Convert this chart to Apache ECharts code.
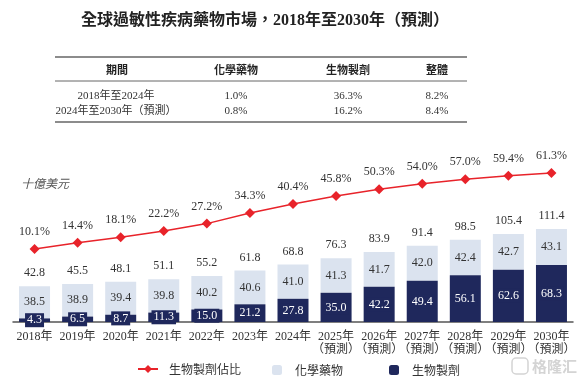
<!DOCTYPE html>
<html>
<head>
<meta charset="utf-8">
<script src="https://cdn.jsdelivr.net/npm/echarts/dist/echarts.min.js"></script>
<style>
  html, body { margin: 0; padding: 0; background: #fff; }
  #chart { width: 585px; height: 377px; }
</style>
</head>
<body>
<div id="chart"></div>
<script>
const years = ["2018年", "2019年", "2020年", "2021年", "2022年", "2023年", "2024年",
  "2025年\n（預測）", "2026年\n（預測）", "2027年\n（預測）", "2028年\n（預測）", "2029年\n（預測）", "2030年\n（預測）"];
const bio = [4.3, 6.5, 8.7, 11.3, 15.0, 21.2, 27.8, 35.0, 42.2, 49.4, 56.1, 62.6, 68.3];
const chem = [38.5, 38.9, 39.4, 39.8, 40.2, 40.6, 41.0, 41.3, 41.7, 42.0, 42.4, 42.7, 43.1];
const totals = [42.8, 45.5, 48.1, 51.1, 55.2, 61.8, 68.8, 76.3, 83.9, 91.4, 98.5, 105.4, 111.4];
const bioShare = [10.1, 14.4, 18.1, 22.2, 27.2, 34.3, 40.4, 45.8, 50.3, 54.0, 57.0, 59.4, 61.3];

const tableHead = ["期間", "化學藥物", "生物製劑", "整體"];
const tableRows = [
  ["2018年至2024年", "1.0%", "36.3%", "8.2%"],
  ["2024年至2030年（預測）", "0.8%", "16.2%", "8.4%"],
];

const serif = "'Liberation Serif', 'Noto Sans CJK TC', serif";
const NAVY = "#1f285c";
const LIGHT = "#dbe3ef";
const RED = "#e8232a";

// table drawn as graphic text/lines
const colX = [117, 236, 348, 437];
const tableGraphic = [];
[[57, 1.5], [81, 1], [122, 1.5]].forEach(([y, w]) => {
  tableGraphic.push({
    type: "line",
    shape: { x1: 55, y1: y, x2: 467, y2: y },
    style: { stroke: "#666", lineWidth: w },
  });
});
tableHead.forEach((t, i) => {
  tableGraphic.push({
    type: "text", x: colX[i], y: 70,
    style: { text: t, font: "bold 11px 'Noto Sans CJK TC'", fill: "#222", align: "center", verticalAlign: "middle" },
  });
});
tableRows.forEach((row, r) => {
  row.forEach((t, i) => {
    tableGraphic.push({
      type: "text", x: i === 0 ? 116 : colX[i], y: 96 + r * 15,
      style: { text: t, font: "11px " + serif, fill: "#333", align: "center", verticalAlign: "middle" },
    });
  });
});

const chart = echarts.init(document.getElementById("chart"));
chart.setOption({
  animation: false,
  textStyle: { fontFamily: serif, color: "#333" },
  title: {
    text: "全球過敏性疾病藥物市場，2018年至2030年（預測）",
    left: 76,
    top: 8,
    textStyle: { fontFamily: serif, fontSize: 16, fontWeight: "bold", color: "#222" },
  },
  graphic: [
    ...tableGraphic,
    {
      type: "text", x: 21, y: 183,
      style: { text: "十億美元", font: "italic 12px 'Noto Sans CJK TC'", fill: "#555", verticalAlign: "middle" },
    },
    {
      type: "text", x: 532, y: 366,
      style: { text: "格隆汇", font: "bold 15px 'Noto Sans CJK SC'", fill: "#d4d4d4", verticalAlign: "middle" },
    },
    {
      type: "rect", shape: { x: 512, y: 358, width: 16, height: 16, r: 4 },
      style: { fill: "none", stroke: "#d4d4d4", lineWidth: 1.5 },
    },
  ],
  legend: [
    {
      data: ["生物製劑佔比"],
      left: 132,
      top: 358,
      itemWidth: 20,
      itemHeight: 10,
      textStyle: { fontFamily: "'Noto Sans CJK TC'", fontSize: 12, color: "#333", padding: [0, 0, 0, 6] },
    },
    {
      data: ["化學藥物", "生物製劑"],
      left: 267,
      top: 359,
      itemWidth: 10,
      itemHeight: 10,
      itemGap: 46,
      textStyle: { fontFamily: "'Noto Sans CJK TC'", fontSize: 12, color: "#333", padding: [0, 0, 0, 8] },
    },
  ],
  grid: { left: 13, right: 12, top: 160, bottom: 55 },
  xAxis: {
    type: "category",
    data: years,
    axisTick: { show: false },
    axisLine: { lineStyle: { color: "#555", width: 1.5 } },
    axisLabel: { fontSize: 12, color: "#333", margin: 8, lineHeight: 13, interval: 0 },
  },
  yAxis: [
    { type: "value", min: 0, max: 194, show: false },
    { type: "value", min: -39, max: 70, show: false },
  ],
  series: [
    {
      name: "總計",
      type: "bar",
      data: totals,
      barWidth: 31,
      barGap: "-100%",
      itemStyle: { color: "rgba(0,0,0,0)" },
      label: { show: true, position: "top", distance: 7, fontSize: 12, color: "#333" },
      silent: true,
      z: 1,
    },
    {
      name: "生物製劑",
      type: "bar",
      stack: "m",
      data: bio,
      barWidth: 31,
      itemStyle: { color: NAVY },
      label: {
        show: true, position: "inside", fontSize: 12, color: "#fff",
        backgroundColor: NAVY, padding: [1, 2],
        formatter: (p) => p.value.toFixed(1),
      },
      z: 3,
    },
    {
      name: "化學藥物",
      type: "bar",
      stack: "m",
      data: chem,
      barWidth: 31,
      itemStyle: { color: LIGHT },
      label: { show: true, position: "inside", fontSize: 12, color: "#333", formatter: (p) => p.value.toFixed(1) },
      z: 2,
    },
    {
      name: "生物製劑佔比",
      type: "line",
      yAxisIndex: 1,
      data: bioShare,
      symbol: "diamond",
      symbolSize: 10,
      lineStyle: { color: RED, width: 1.5 },
      itemStyle: { color: RED },
      label: {
        show: true, position: "top", distance: 6, fontSize: 12, color: "#333",
        formatter: (p) => p.value.toFixed(1) + "%",
      },
      z: 5,
    },
  ],
});
</script>
</body>
</html>
